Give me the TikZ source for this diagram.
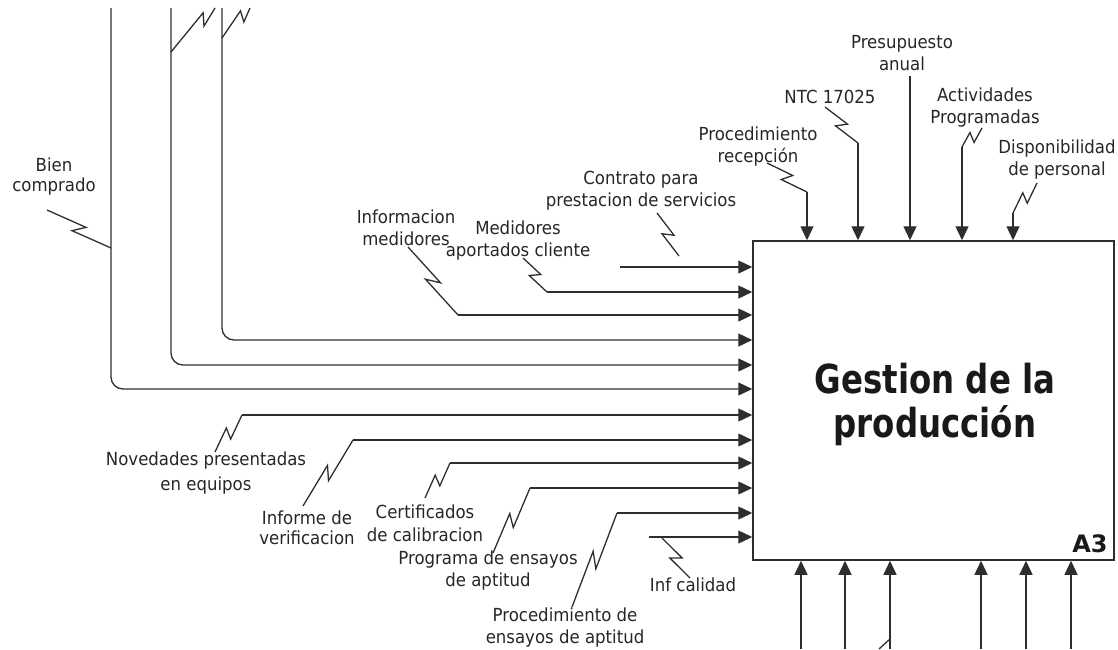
\documentclass[tikz,border=0pt]{standalone}
\usepackage{fontspec}
\setmainfont{DejaVu Sans}[FakeStretch=0.92]
\newfontfamily\titlefont{DejaVu Sans}[FakeStretch=0.81]
\newfontfamily\codefont{DejaVu Sans}
\usetikzlibrary{arrows.meta,calc}
\definecolor{ln}{HTML}{2E2E2E}
\definecolor{tx}{HTML}{262626}
\begin{document}
\begin{tikzpicture}[x=1pt,y=-1pt,
  conn/.style={draw=ln,line width=1.3pt},
  arr/.style={conn,-{Triangle[length=14pt,width=13pt]}},
  lbl/.style={text=tx,align=center,inner sep=0pt,font=\fontsize{18}{22}\selectfont},
  bolt/.style={conn,to path={-- ($(\tikztostart)!{#1+0.07}!(\tikztotarget)!5pt!90:(\tikztotarget)$) -- ($(\tikztostart)!{#1-0.07}!(\tikztotarget)!5pt!-90:(\tikztotarget)$) -- (\tikztotarget)}},
  bolt/.default=0.5]
\useasboundingbox (0,0) rectangle (1118,649);

% activity box
\node[draw=ln,line width=1.5pt,minimum width=361pt,minimum height=319pt,inner sep=0pt] (box) at (933.5,400.5) {};
\node[text=black!90,align=center,inner sep=0pt,font={\titlefont\bfseries\fontsize{40}{44}\selectfont}] (title) at (935,404) {Gestion de la\\producción};
\node[text=black!90,inner sep=0pt,anchor=base east,font={\codefont\bfseries\fontsize{24}{28}\selectfont}] (code) at ($(box.south east)+(-7,-8)$) {A3};

% ---------- inputs ----------
\coordinate (i1) at (620,267);
\draw[arr] (i1) -- (i1 -| box.west);
\coordinate (i2) at (547,292);
\draw[arr] (i2) -- (i2 -| box.west);
\coordinate (i3) at (458,315);
\draw[arr] (i3) -- (i3 -| box.west);
\coordinate (v4) at (222,8); \coordinate (h4) at (0,340);
\draw[arr,rounded corners=12pt] (v4) |- (h4 -| box.west);
\coordinate (v5) at (171,8); \coordinate (h5) at (0,365);
\draw[arr,rounded corners=12pt] (v5) |- (h5 -| box.west);
\coordinate (v6) at (111,8); \coordinate (h6) at (0,389);
\draw[arr,rounded corners=12pt] (v6) |- (h6 -| box.west);
\coordinate (i7) at (242,415);
\draw[arr] (i7) -- (i7 -| box.west);
\coordinate (i8) at (353,440);
\draw[arr] (i8) -- (i8 -| box.west);
\coordinate (i9) at (450,463);
\draw[arr] (i9) -- (i9 -| box.west);
\coordinate (i10) at (530,488);
\draw[arr] (i10) -- (i10 -| box.west);
\coordinate (i11) at (617,513);
\draw[arr] (i11) -- (i11 -| box.west);
\coordinate (i12) at (649,537);
\draw[arr] (i12) -- (i12 -| box.west);

% input labels
\node[lbl] (l1) at (641,191) {Contrato para\\prestacion de servicios};
\node[lbl] (l2) at (518,241) {Medidores\\aportados cliente};
\node[lbl] (l3) at (406,228) {Informacion\\medidores};
\node[lbl] (l6) at (54,177) {Bien\\[-2pt]comprado};
\node[lbl] (l7) at (206,473) {Novedades presentadas\\[3pt]en equipos};
\node[lbl] (l8) at (307,528) {Informe de\\[-2pt]verificacion};
\node[lbl] (l9) at (425,523) {Certificados\\[1pt]de calibracion};
\node[lbl] (l10) at (488,571) {Programa de ensayos\\de aptitud};
\node[lbl] (l11) at (565,628) {Procedimiento de\\ensayos de aptitud};
\node[lbl] (l12) at (693,585) {Inf calidad};

% input squiggles
\coordinate (s1a) at (657,213); \coordinate (s1b) at (679,256);
\draw[bolt] (s1a) to (s1b);
\coordinate (s2a) at (523,258);
\draw[bolt] (s2a) to (i2);
\coordinate (s3a) at (408,247);
\draw[bolt] (s3a) to (i3);
\coordinate (s4a) at (222,38); \coordinate (s4b) at (250,8);
\draw[bolt=0.72] (s4a) to (s4b);
\coordinate (s5a) at (171,52); \coordinate (s5b) at (215,8);
\draw[bolt=0.74] (s5a) to (s5b);
\coordinate (s6a) at (47,210); \coordinate (s6b) at (111,248);
\draw[bolt] (s6a) to (s6b);
\coordinate (s7a) at (215,452);
\draw[bolt] (s7a) to (i7);
\coordinate (s8a) at (303,506);
\draw[bolt] (s8a) to (i8);
\coordinate (s9a) at (425,498);
\draw[bolt] (s9a) to (i9);
\coordinate (s10a) at (493,553);
\draw[bolt] (s10a) to (i10);
\coordinate (s11a) at (572,607);
\draw[bolt] (s11a) to (i11);
\coordinate (s12a) at (662,538); \coordinate (s12b) at (690,578);
\draw[bolt] (s12a) to (s12b);

% ---------- controls ----------
\coordinate (c1) at (807,192);
\draw[arr] (c1) -- (c1 |- box.north);
\coordinate (c2) at (858,143);
\draw[arr] (c2) -- (c2 |- box.north);
\coordinate (c3) at (910,76);
\draw[arr] (c3) -- (c3 |- box.north);
\coordinate (c4) at (962,147);
\draw[arr] (c4) -- (c4 |- box.north);
\coordinate (c5) at (1013,213);
\draw[arr] (c5) -- (c5 |- box.north);

\node[lbl] (t1) at (758,147) {Procedimiento\\recepción};
\node[lbl] (t2) at (830,97) {NTC 17025};
\node[lbl] (t3) at (902,53) {Presupuesto\\anual};
\node[lbl] (t4) at (985,108) {Actividades\\Programadas};
\node[lbl] (t5) at (1057,160) {Disponibilidad\\de personal};

\coordinate (q1) at (767,163);
\draw[bolt] (q1) to (c1);
\coordinate (q2) at (825,107);
\draw[bolt] (q2) to (c2);
\coordinate (q4) at (982,128);
\draw[bolt] (q4) to (c4);
\coordinate (q5) at (1037,183);
\draw[bolt] (q5) to (c5);

% ---------- mechanisms ----------
\coordinate (m1) at (801,649);
\draw[arr] (m1) -- (m1 |- box.south);
\coordinate (m2) at (845,649);
\draw[arr] (m2) -- (m2 |- box.south);
\coordinate (m3) at (890,649);
\draw[arr] (m3) -- (m3 |- box.south);
\coordinate (m4) at (981,649);
\draw[arr] (m4) -- (m4 |- box.south);
\coordinate (m5) at (1026,649);
\draw[arr] (m5) -- (m5 |- box.south);
\coordinate (m6) at (1071,649);
\draw[arr] (m6) -- (m6 |- box.south);
\coordinate (mk1) at (879,649); \coordinate (mk2) at (890,639);
\draw[conn] (mk1) -- (mk2);
\end{tikzpicture}
\end{document}
